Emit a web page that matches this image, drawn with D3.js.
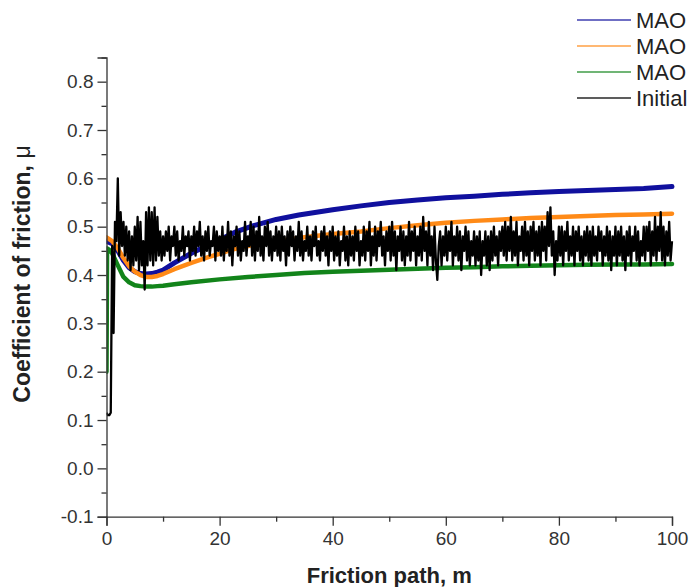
<!DOCTYPE html>
<html>
<head>
<meta charset="utf-8">
<script src="https://cdn.jsdelivr.net/npm/d3@7/dist/d3.min.js"></script>
<style>
  html, body { margin: 0; padding: 0; background: #fff; }
  svg { display: block; }
  text { font-family: "Liberation Sans", Arial, sans-serif; }
</style>
</head>
<body>
<svg id="chart" width="692" height="587"></svg>
<script>
// Friction path positions (m) for the three coated samples
const maoBlueX   = [0, 1, 2, 3, 4, 5, 6, 7, 8, 9, 10, 12, 15, 18, 20, 23, 26, 30, 34, 40, 45, 50, 55, 60, 65, 70, 75, 80, 85, 90, 95, 100];
const maoBlueY   = [0.470, 0.465, 0.450, 0.430, 0.415, 0.407, 0.403, 0.402, 0.403, 0.406, 0.410, 0.425, 0.445, 0.462, 0.473, 0.490, 0.502, 0.515, 0.524, 0.535, 0.543, 0.550, 0.555, 0.560, 0.563, 0.567, 0.570, 0.573, 0.575, 0.577, 0.579, 0.583];

const maoOrangeX = [0, 1, 2, 3, 4, 5, 6, 7, 8, 9, 10, 12, 15, 18, 20, 22, 25, 30, 35, 40, 45, 50, 55, 60, 65, 70, 75, 80, 85, 90, 95, 100];
const maoOrangeY = [0.478, 0.470, 0.455, 0.435, 0.418, 0.407, 0.400, 0.396, 0.396, 0.398, 0.402, 0.412, 0.425, 0.437, 0.444, 0.452, 0.460, 0.470, 0.478, 0.485, 0.490, 0.497, 0.503, 0.508, 0.512, 0.515, 0.518, 0.520, 0.522, 0.524, 0.525, 0.527];

const maoGreenX  = [0, 0.1, 0.5, 1, 2, 3, 4, 5, 6, 7, 8, 9, 10, 12, 15, 20, 25, 30, 35, 40, 45, 50, 55, 60, 65, 70, 75, 80, 85, 90, 95, 100];
const maoGreenY  = [0.200, 0.455, 0.452, 0.445, 0.420, 0.396, 0.385, 0.379, 0.377, 0.376, 0.376, 0.377, 0.378, 0.381, 0.385, 0.391, 0.396, 0.400, 0.404, 0.407, 0.409, 0.411, 0.413, 0.415, 0.416, 0.418, 0.419, 0.420, 0.421, 0.422, 0.422, 0.423];

// Uncoated sample: coefficient of friction sampled every 0.25 m from 0 to 100 m
const initialStep = 0.25;
const initialY = [
  0.115,0.11,0.11,0.115,0.46,0.28,0.51,0.47,0.60,0.44,0.53,0.46,0.51,0.44,0.50,0.43,0.49,0.41,0.48,0.42,
  0.50,0.43,0.52,0.41,0.51,0.42,0.47,0.37,0.53,0.42,0.54,0.43,0.53,0.42,0.54,0.43,0.52,0.44,0.49,0.43,0.48,
  0.44,0.49,0.45,0.50,0.43,0.48,0.46,0.50,0.44,0.49,0.43,0.47,0.45,0.50,0.44,0.48,0.46,0.49,0.43,0.48,
  0.45,0.50,0.44,0.49,0.46,0.51,0.44,0.48,0.43,0.49,0.45,0.50,0.44,0.47,0.46,0.50,0.43,0.49,0.45,0.48,
  0.44,0.50,0.43,0.48,0.45,0.51,0.44,0.49,0.42,0.48,0.46,0.50,0.44,0.49,0.43,0.47,0.45,0.51,0.44,0.48,
  0.46,0.51,0.44,0.50,0.43,0.49,0.45,0.52,0.44,0.48,0.43,0.50,0.46,0.51,0.44,0.49,0.43,0.48,0.45,0.50,
  0.44,0.49,0.43,0.50,0.45,0.48,0.42,0.49,0.44,0.50,0.46,0.49,0.43,0.48,0.45,0.51,0.44,0.49,0.43,0.47,
  0.45,0.50,0.44,0.48,0.43,0.49,0.46,0.50,0.44,0.47,0.43,0.49,0.45,0.50,0.44,0.48,0.42,0.49,0.45,0.50,
  0.43,0.48,0.44,0.49,0.42,0.47,0.45,0.50,0.43,0.48,0.42,0.49,0.44,0.48,0.43,0.50,0.45,0.49,0.42,0.47,
  0.44,0.50,0.43,0.49,0.45,0.51,0.42,0.48,0.44,0.50,0.43,0.49,0.46,0.51,0.44,0.48,0.42,0.49,0.45,0.50,
  0.43,0.51,0.44,0.49,0.41,0.48,0.45,0.50,0.43,0.49,0.42,0.48,0.44,0.51,0.43,0.49,0.45,0.50,0.42,0.48,
  0.44,0.50,0.43,0.52,0.45,0.49,0.42,0.51,0.44,0.48,0.41,0.50,0.43,0.39,0.46,0.49,0.42,0.48,0.44,0.50,
  0.43,0.49,0.45,0.51,0.42,0.48,0.44,0.50,0.43,0.49,0.41,0.48,0.45,0.50,0.43,0.49,0.42,0.47,0.44,0.49,
  0.42,0.48,0.43,0.49,0.40,0.47,0.44,0.49,0.42,0.48,0.41,0.49,0.43,0.50,0.44,0.48,0.42,0.49,0.45,0.50,
  0.44,0.51,0.43,0.50,0.45,0.52,0.43,0.49,0.44,0.51,0.42,0.48,0.45,0.50,0.43,0.51,0.44,0.49,0.42,0.50,
  0.45,0.51,0.43,0.49,0.44,0.50,0.42,0.51,0.45,0.50,0.43,0.53,0.46,0.54,0.44,0.49,0.40,0.47,0.43,0.50,
  0.44,0.50,0.42,0.49,0.45,0.51,0.43,0.48,0.44,0.50,0.42,0.49,0.45,0.50,0.43,0.48,0.42,0.49,0.44,0.50,
  0.43,0.49,0.42,0.50,0.44,0.48,0.43,0.50,0.45,0.49,0.42,0.48,0.44,0.50,0.43,0.49,0.41,0.48,0.44,0.50,
  0.42,0.49,0.44,0.50,0.43,0.48,0.41,0.49,0.44,0.50,0.42,0.48,0.45,0.50,0.43,0.49,0.42,0.47,0.44,0.50,
  0.43,0.50,0.45,0.51,0.42,0.49,0.44,0.52,0.43,0.50,0.45,0.53,0.43,0.50,0.42,0.49,0.44,0.51,0.43,0.47
];

// Axis ticks
const xMajorTicks = [0, 20, 40, 60, 80, 100];
const xMinorTicks = [10, 30, 50, 70, 90];
const yMajorTicks = [-0.1, 0.0, 0.1, 0.2, 0.3, 0.4, 0.5, 0.6, 0.7, 0.8];
const yMinorTicks = [-0.05, 0.05, 0.15, 0.25, 0.35, 0.45, 0.55, 0.65, 0.75, 0.85];

// Legend entries
const legendLabels = ["MAO", "MAO", "MAO", "Initial"];
const seriesColors = ["#10109e", "#ff8a17", "#12841a", "#000000"];

const svg = d3.select("#chart");
const x = d3.scaleLinear().domain([0, 100]).range([106.5, 672]);
const y = d3.scaleLinear().domain([-0.1, 0.85]).range([516.7, 57.5]);

// Plot area clip so curves starting at 0 do not spill left of the axis
svg.append("defs").append("clipPath").attr("id", "plotClip")
  .append("rect").attr("x", x(0)).attr("y", 0).attr("width", x(100) - x(0) + 4).attr("height", y(-0.1));

const line = d3.line().x(d => x(d[0])).y(d => y(d[1]));
const plot = svg.append("g").attr("clip-path", "url(#plotClip)");

const coated = [
  { xs: maoBlueX, ys: maoBlueY, color: seriesColors[0], width: 5 },
  { xs: maoOrangeX, ys: maoOrangeY, color: seriesColors[1], width: 4.5 },
  { xs: maoGreenX, ys: maoGreenY, color: seriesColors[2], width: 4.5 }
];
coated.forEach(s => {
  plot.append("path")
    .datum(s.xs.map((v, i) => [v, s.ys[i]]))
    .attr("fill", "none")
    .attr("stroke", s.color)
    .attr("stroke-width", s.width)
    .attr("stroke-linejoin", "round")
    .attr("stroke-linecap", "round")
    .attr("d", line);
});

plot.append("path")
  .datum(initialY.map((v, i) => [i * initialStep, v]))
  .attr("fill", "none")
  .attr("stroke", seriesColors[3])
  .attr("stroke-width", 2.3)
  .attr("stroke-linejoin", "round")
  .attr("d", line);

// Axes
const axisColor = "#333";
const fmt = v => v.toFixed(1);

const gy = svg.append("g").attr("transform", `translate(${x(0)},0)`);
gy.call(d3.axisLeft(y).tickValues(yMajorTicks).tickFormat(fmt).tickSize(9).tickPadding(4));
gy.append("g").call(d3.axisLeft(y).tickValues(yMinorTicks).tickFormat("").tickSize(5))
  .select(".domain").remove();

const gx = svg.append("g").attr("transform", `translate(0,${y(-0.1)})`);
gx.call(d3.axisBottom(x).tickValues(xMajorTicks).tickFormat(d3.format("d")).tickSize(9).tickPadding(6));
gx.append("g").call(d3.axisBottom(x).tickValues(xMinorTicks).tickFormat("").tickSize(5))
  .select(".domain").remove();

svg.selectAll(".domain").attr("stroke", axisColor).attr("stroke-width", 1.3);
svg.selectAll(".tick line").attr("stroke", axisColor).attr("stroke-width", 1.3);
svg.selectAll(".tick text")
  .attr("fill", "#333")
  .style("font-size", "19px")
  .style("font-family", "'Liberation Sans', Arial, sans-serif");

// Axis titles
svg.append("text")
  .attr("x", (x(0) + x(100)) / 2)
  .attr("y", 583)
  .attr("text-anchor", "middle")
  .attr("fill", "#222")
  .style("font-size", "22px")
  .style("font-weight", "bold")
  .text("Friction path, m");

const yTitle = svg.append("text")
  .attr("transform", "translate(30,274) rotate(-90)")
  .attr("text-anchor", "middle")
  .attr("fill", "#222")
  .style("font-size", "23px")
  .style("font-weight", "bold");
yTitle.append("tspan").text("Coefficient of friction, ");
yTitle.append("tspan").style("font-weight", "normal").text("μ");

// Legend
const legend = svg.append("g");
legendLabels.forEach((label, i) => {
  const ly = 20 + i * 26;
  legend.append("line")
    .attr("x1", 577).attr("x2", 631)
    .attr("y1", ly).attr("y2", ly)
    .attr("stroke", seriesColors[i])
    .attr("stroke-width", 1.5)
    .attr("stroke-opacity", i === 3 ? 0.85 : 0.8);
  legend.append("text")
    .attr("x", 636).attr("y", ly)
    .attr("dy", "0.36em")
    .attr("fill", "#222")
    .style("font-size", "22px")
    .text(label);
});
</script>
</body>
</html>
